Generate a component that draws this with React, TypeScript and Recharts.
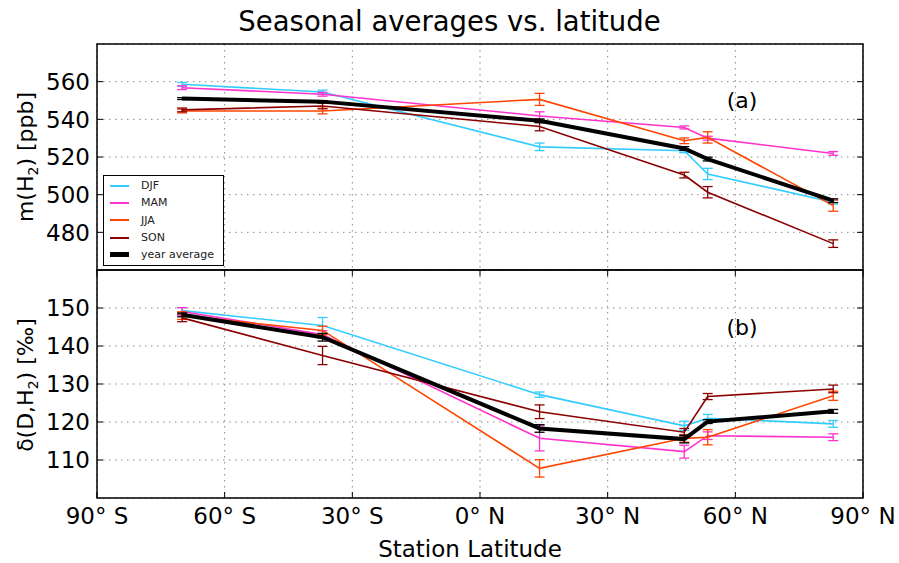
import React from 'react';
import { LineChart, Line, XAxis, YAxis, CartesianGrid, ErrorBar, ReferenceArea, Legend } from 'recharts';

const stationLat = [-70, -37, 14, 48, 53.5, 83];
const latTicks = [-90, -60, -30, 0, 30, 60, 90];
const latTickLabels = ['90° S', '60° S', '30° S', '0° N', '30° N', '60° N', '90° N'];
const h2Ticks = [480, 500, 520, 540, 560];
const dTicks = [110, 120, 130, 140, 150];

const seasonNames = ['DJF', 'MAM', 'JJA', 'SON', 'year average'];
const seasonKeys = ['djf', 'mam', 'jja', 'son', 'avg'];
const seasonColors = ['#33ccff', '#ff33cc', '#ff4500', '#8b0000', '#000000'];
const seasonWidths = [1.6, 1.6, 1.6, 1.6, 4];
const legendWidths = [2, 2, 2, 2, 5];

// m(H2) [ppb]
const djfH2 = [558.6, 554.5, 525.4, 523.3, 511, 496];
const mamH2 = [556.8, 553.3, 541.8, 535.7, 530, 521.9];
const jjaH2 = [544.4, 544.4, 550.6, 528.6, 530.4, 494.2];
const sonH2 = [545, 547.1, 536.2, 510.4, 501.3, 474];
const avgH2 = [551, 549.4, 539.2, 524.5, 518.9, 496.8];
const djfH2Err = [1, 1, 2, 1, 3, 1];
const mamH2Err = [1, 1, 2.2, 0.8, 1, 1];
const jjaH2Err = [1, 1.5, 3.2, 1.5, 3, 3];
const sonH2Err = [1, 1.5, 2.3, 1.5, 3, 2];
const avgH2Err = [0.5, 0.5, 1, 1, 1, 1];

// delta(D,H2) [permil]
const djfD = [149.3, 145.4, 127.2, 119.0, 121, 119.5];
const mamD = [149.1, 143, 115.7, 112.2, 116.4, 116];
const jjaD = [148, 144.1, 107.8, 115.7, 116, 126.9];
const sonD = [147.4, 137.5, 122.7, 117.3, 126.7, 128.7];
const avgD = [148.2, 142.3, 118.3, 115.5, 120.1, 122.8];
const djfDErr = [0.8, 2.1, 0.7, 1.2, 1, 0.9];
const mamDErr = [1, 1, 3.3, 1.7, 1, 0.9];
const jjaDErr = [1, 1.1, 2.3, 1, 2, 1.2];
const sonDErr = [1, 2.4, 1.8, 1, 0.8, 1];
const avgDErr = [0.5, 1, 1, 1, 0.5, 0.5];

const buildRows = (vals: number[][], errs: number[][]) =>
  stationLat.map((lat, i) => {
    const row: any = { lat };
    seasonKeys.forEach((k, s) => {
      row[k] = vals[s][i];
      row[k + 'Err'] = errs[s][i];
    });
    return row;
  });

const h2Rows = buildRows([djfH2, mamH2, jjaH2, sonH2, avgH2], [djfH2Err, mamH2Err, jjaH2Err, sonH2Err, avgH2Err]);
const dRows = buildRows([djfD, mamD, jjaD, sonD, avgD], [djfDErr, mamDErr, jjaDErr, sonDErr, avgDErr]);

const FONT = 'DejaVu Sans';
const PLOT_W = 766;
const PLOT_H_TOP = 226;
const PLOT_H_BOT = 228;
const TICK = 6;

const makeYTick = () => (props: any) => {
  const { x, y, payload } = props;
  const ax = x + 7;
  return (
    <g>
      <line x1={ax} x2={ax + TICK} y1={y} y2={y} stroke="#000" strokeWidth={1} />
      <line x1={ax + PLOT_W} x2={ax + PLOT_W - TICK} y1={y} y2={y} stroke="#000" strokeWidth={1} />
      <text x={x} y={y} dy="0.36em" textAnchor="end" fontSize={23} fontFamily={FONT} fill="#000">
        {payload.value}
      </text>
    </g>
  );
};

const TopXTick = (props: any) => {
  const { x, y } = props;
  return (
    <g>
      <line x1={x} x2={x} y1={y} y2={y - TICK} stroke="#000" strokeWidth={1} />
      <line x1={x} x2={x} y1={y - PLOT_H_TOP} y2={y - PLOT_H_TOP + TICK} stroke="#000" strokeWidth={1} />
    </g>
  );
};

const BottomXTick = (props: any) => {
  const { x, y, payload } = props;
  const ay = y - 10;
  const idx = latTicks.indexOf(payload.value);
  return (
    <g>
      <line x1={x} x2={x} y1={ay} y2={ay - TICK} stroke="#000" strokeWidth={1} />
      <line x1={x} x2={x} y1={ay - PLOT_H_BOT} y2={ay - PLOT_H_BOT + TICK} stroke="#000" strokeWidth={1} />
      <text x={x} y={y} dy="0.71em" textAnchor="middle" fontSize={23} fontFamily={FONT} fill="#000">
        {latTickLabels[idx]}
      </text>
    </g>
  );
};

const renderLegend = () => (
  <div
    style={{
      border: '1.5px solid #000',
      background: '#fff',
      width: 121,
      height: 91,
      boxSizing: 'border-box',
      padding: '1px 0 0 6px',
      fontFamily: FONT,
      fontSize: 11,
      color: '#222',
    }}
  >
    {seasonNames.map((n, i) => (
      <div key={n} style={{ display: 'flex', alignItems: 'center', height: 17.3 }}>
        <span
          style={{
            display: 'inline-block',
            width: 19,
            height: 0,
            borderTop: `${legendWidths[i]}px solid ${seasonColors[i]}`,
            marginRight: 12,
          }}
        />
        <span>{n}</span>
      </div>
    ))}
  </div>
);

const renderSeries = () =>
  seasonKeys.map((k, i) => (
    <Line
      key={k}
      type="linear"
      dataKey={k}
      name={seasonNames[i]}
      stroke={seasonColors[i]}
      strokeWidth={seasonWidths[i]}
      dot={false}
      activeDot={false}
      isAnimationActive={false}
    >
      <ErrorBar dataKey={k + 'Err'} width={5} stroke={seasonColors[i]} strokeWidth={1.3} direction="y" />
    </Line>
  ));

export default function App() {
  return (
    <div style={{ position: 'absolute', left: 0, top: 0, width: 899, height: 563, background: '#fff' }}>
      <div style={{ position: 'absolute', left: 0, top: 0 }}>
        <LineChart width={899} height={272} data={h2Rows} margin={{ top: 44, right: 36, bottom: 2, left: 37 }}>
          <CartesianGrid stroke="#888" strokeDasharray="1.5 4.5" strokeWidth={1} />
          <XAxis
            dataKey="lat"
            type="number"
            domain={[-90, 90]}
            ticks={latTicks}
            interval={0}
            height={0}
            tickSize={0}
            tickMargin={0}
            axisLine={false}
            tickLine={false}
            tick={TopXTick}
          />
          <YAxis
            type="number"
            domain={[460, 580]}
            ticks={h2Ticks}
            interval={0}
            width={60}
            tickSize={0}
            tickMargin={7}
            axisLine={false}
            tickLine={false}
            tick={makeYTick()}
          />
          {renderSeries()}
          <ReferenceArea x1={-90} x2={90} y1={460} y2={580} fill="none" stroke="#000" strokeWidth={1.5} ifOverflow="visible" />
          <Legend
            content={renderLegend}
            layout="horizontal"
            verticalAlign="middle"
            align="center"
            wrapperStyle={{ left: 103, top: 175, width: 121, height: 91 }}
          />
        </LineChart>
      </div>
      <div style={{ position: 'absolute', left: 0, top: 268 }}>
        <LineChart width={899} height={295} data={dRows} margin={{ top: 2, right: 36, bottom: 0, left: 37 }}>
          <CartesianGrid stroke="#888" strokeDasharray="1.5 4.5" strokeWidth={1} />
          <XAxis
            dataKey="lat"
            type="number"
            domain={[-90, 90]}
            ticks={latTicks}
            interval={0}
            height={65}
            tickSize={0}
            tickMargin={10}
            axisLine={false}
            tickLine={false}
            tick={BottomXTick}
          />
          <YAxis
            type="number"
            domain={[100, 160]}
            ticks={dTicks}
            interval={0}
            width={60}
            tickSize={0}
            tickMargin={7}
            axisLine={false}
            tickLine={false}
            tick={makeYTick()}
          />
          {renderSeries()}
          <ReferenceArea x1={-90} x2={90} y1={100} y2={160} fill="none" stroke="#000" strokeWidth={1.5} ifOverflow="visible" />
        </LineChart>
      </div>
      <svg
        width={899}
        height={563}
        style={{ position: 'absolute', left: 0, top: 0, pointerEvents: 'none' }}
        fontFamily={FONT}
      >
        <text x={449.5} y={31} textAnchor="middle" fontSize={27.5} fill="#000">
          Seasonal averages vs. latitude
        </text>
        <text x={742} y={108} textAnchor="middle" fontSize={22} fill="#000">(a)</text>
        <text x={742} y={335} textAnchor="middle" fontSize={22} fill="#000">(b)</text>
        <text x={470} y={557} textAnchor="middle" fontSize={23} fill="#000">Station Latitude</text>
        <text x={33} y={157} transform="rotate(-90 33 157)" textAnchor="middle" fontSize={22} fill="#000">
          m(H<tspan dy={5} fontSize={14}>2</tspan>
          <tspan dy={-5}>)</tspan> [ppb]
        </text>
        <text x={33} y={385} transform="rotate(-90 33 385)" textAnchor="middle" fontSize={22} fill="#000">
          δ(D,H<tspan dy={5} fontSize={14}>2</tspan>
          <tspan dy={-5}>)</tspan> [‰]
        </text>
      </svg>
    </div>
  );
}
